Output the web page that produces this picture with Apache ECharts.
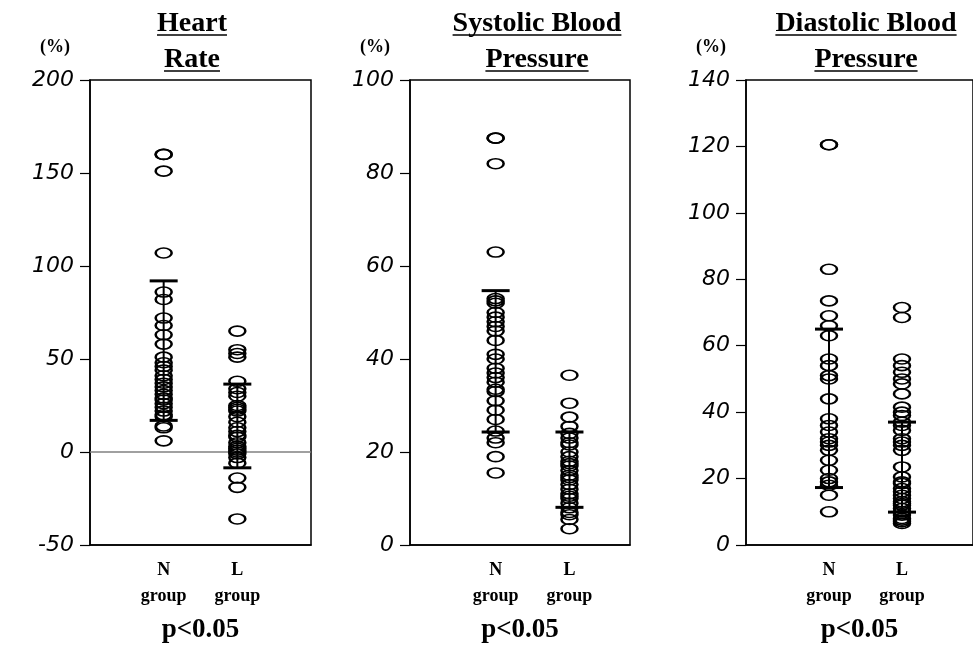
<!DOCTYPE html>
<html>
<head>
<meta charset="utf-8">
<script src="https://cdn.jsdelivr.net/npm/echarts@6/dist/echarts.min.js"></script>
<style>html,body{margin:0;padding:0;background:#fff}#c{width:973px;height:649px}</style>
</head>
<body>
<div id="c"></div>
<script>
// ---- data ----
const groups = ['N', 'L'];
const panelTitles = [['Heart', 'Rate'], ['Systolic Blood', 'Pressure'], ['Diastolic Blood', 'Pressure']];
const pText = 'p<0.05';

const hrN = [160,160,151,107,86,82,72,68,63,58,51,48,46,44,41,39,37,35,33,31,29,28,26,24,22,20,19,14,13,6];
const hrL = [65,55,53,51,38,34,32,30,25,24,23,22,19,16,13,11,9,8,5,3,2,1,0,-1,-3,-6,-14,-19,-36];
const hrBar = [[17, 92], [-8.5, 36.5]];

const sbpN = [87.5,87.5,82,63,53,52.5,52,50,49,48,47,46,44,41,40,38,37,36,35,33.5,33,31,29,27,24.5,23,22,19,15.5];
const sbpL = [36.5,30.5,27.5,25.5,24,23,22,21.5,20,19,18,17.5,17,16,15,14.5,14,13,12,11,10.5,10,9,8,7,6.5,5.5,3.5];
const sbpBar = [[24.3, 54.7], [8.1, 24.3]];

const dbpN = [120.5,120.5,83,73.5,69,66,63,56,54,51,50,44,38,36,34,32,31,30,28.5,25.5,22.5,20,19,18,15,10];
const dbpL = [71.5,68.5,56,54,52,50,48.5,45.5,41.5,40,39,37,36,34.5,32,31,30,28.5,23.5,20.5,19,18.5,17,16,15,14,13,12.5,12,11,10,9,8,7.5,7,6.5];
const dbpBar = [[17.3, 65], [9.9, 37]];

const yMin = [-50, 0, 0];
const yMax = [200, 100, 140];
const yInterval = [50, 20, 20];

// ---- layout ----
const grids = [
  {left: 90, top: 80, width: 221, height: 471},
  {left: 410, top: 80, width: 220, height: 469},
  {left: 746, top: 80, width: 227, height: 469}
];
const xRanges = [[0, 3], [-0.16, 2.82], [-0.137, 2.973]];
const titleCx = [192, 537, 866];

const nData = [hrN, sbpN, dbpN];
const lData = [hrL, sbpL, dbpL];
const bars = [hrBar, sbpBar, dbpBar];

const serif = '"Liberation Serif", "Times New Roman", serif';

const chart = echarts.init(document.getElementById('c'));

const xAxes = [], yAxes = [], series = [], graphics = [];
for (let i = 0; i < 3; i++) {
  xAxes.push({
    gridIndex: i, type: 'value', min: xRanges[i][0], max: xRanges[i][1],
    axisLine: {show: true, onZero: false, lineStyle: {color: '#000', width: 1.5}},
    axisTick: {show: false}, splitLine: {show: false},
    axisLabel: {
      customValues: [1, 2], margin: 12,
      formatter: v => (Math.round(v) === 1 ? groups[0] : groups[1]) + '\ngroup',
      fontFamily: serif, fontWeight: 'bold', fontSize: 18, lineHeight: 26, color: '#000'
    },
    name: pText, nameLocation: 'middle', nameGap: 72,
    nameTextStyle: {fontFamily: serif, fontWeight: 'bold', fontSize: 27, color: '#000'}
  });
  yAxes.push({
    gridIndex: i, type: 'value', min: yMin[i], max: yMax[i], interval: yInterval[i],
    axisLine: {show: true, onZero: false, lineStyle: {color: '#000', width: 1.5}},
    axisTick: {show: true, length: 10, lineStyle: {color: '#000', width: 1.2}},
    splitLine: {show: false},
    axisLabel: {margin: 16, fontFamily: '"DejaVu Sans", sans-serif', fontStyle: 'italic', fontSize: 22, color: '#000'},
    name: '(%)', nameLocation: 'end', nameGap: 24,
    nameTextStyle: {fontFamily: serif, fontWeight: 'bold', fontSize: 18, color: '#000', align: 'right', padding: [0, 20, 0, 0]}
  });
  const pts = nData[i].map(v => [1, v]).concat(lData[i].map(v => [2, v]));
  const s = {
    type: 'scatter', xAxisIndex: i, yAxisIndex: i, data: pts,
    symbol: 'circle', symbolSize: [16, 10],
    itemStyle: {color: 'rgba(0,0,0,0)', borderColor: '#000', borderWidth: 2, opacity: 1},
    silent: true, z: 3
  };
  if (i === 0) {
    s.markLine = {silent: true, symbol: ['none', 'none'], label: {show: false},
      lineStyle: {color: '#808080', width: 1.5, type: 'solid'}, data: [{yAxis: 0}], z: 1};
  }
  series.push(s);
  series.push({
    type: 'custom', xAxisIndex: i, yAxisIndex: i, z: 4, silent: true,
    data: bars[i].map((b, k) => [k + 1, b[0], b[1]]),
    renderItem: (params, api) => {
      const x = api.value(0);
      const lo = api.coord([x, api.value(1)]);
      const hi = api.coord([x, api.value(2)]);
      const hw = 14;
      return {type: 'group', children: [
        {type: 'line', shape: {x1: lo[0], y1: lo[1], x2: hi[0], y2: hi[1]}, style: {stroke: '#000', lineWidth: 2}},
        {type: 'line', shape: {x1: lo[0] - hw, y1: lo[1], x2: lo[0] + hw, y2: lo[1]}, style: {stroke: '#000', lineWidth: 3}},
        {type: 'line', shape: {x1: hi[0] - hw, y1: hi[1], x2: hi[0] + hw, y2: hi[1]}, style: {stroke: '#000', lineWidth: 3}}
      ]};
    }
  });
}

// titles with underline
const ctx = document.createElement('canvas').getContext('2d');
const titleFont = 'bold 28px "Liberation Serif"';
ctx.font = titleFont;
for (let i = 0; i < 3; i++) {
  panelTitles[i].forEach((t, k) => {
    const yMid = 24 + k * 36;
    const w = ctx.measureText(t).width;
    graphics.push({type: 'text', silent: true, style: {text: t, x: titleCx[i], y: yMid, align: 'center', verticalAlign: 'middle',
      font: titleFont, fill: '#000'}});
    graphics.push({type: 'line', silent: true, shape: {x1: titleCx[i] - w / 2, y1: yMid + 11, x2: titleCx[i] + w / 2, y2: yMid + 11},
      style: {stroke: '#000', lineWidth: 1.5}});
  });
}

chart.setOption({
  animation: false,
  backgroundColor: '#fff',
  grid: grids.map(g => Object.assign({show: true, borderColor: '#000', borderWidth: 1.5, backgroundColor: 'transparent'}, g)),
  xAxis: xAxes,
  yAxis: yAxes,
  series: series,
  graphic: graphics
});
</script>
</body>
</html>
